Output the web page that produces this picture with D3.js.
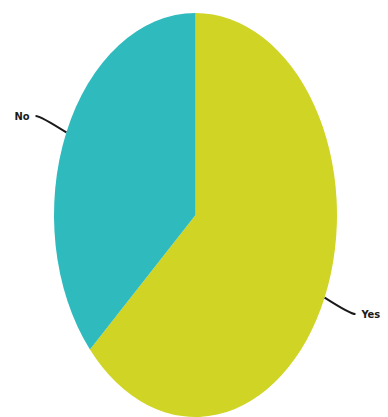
<!DOCTYPE html>
<html>
<head>
<meta charset="utf-8">
<script src="https://cdn.jsdelivr.net/npm/d3@7"></script>
<style>
  html, body { margin: 0; padding: 0; background: #fff; }
  svg { display: block; }
</style>
</head>
<body>
<svg id="chart" width="388" height="417"></svg>
<script>
// Survey answers
const categories = ["Yes", "No"];
const values = [63.4, 36.6];
const colors = ["#d0d425", "#2fbabd"];

const width = 388, height = 417;
const cx = 195.5, cy = 215;     // pie centre
const rx = 141.5, ry = 202;     // elliptical radii

const svg = d3.select("#chart");

const pie = d3.pie().sort(null).value(d => d.value);
const arcs = pie(categories.map((c, i) => ({ name: c, value: values[i], color: colors[i] })));

// unit-radius arcs, stretched into an ellipse
const arc = d3.arc().innerRadius(0).outerRadius(1);
const g = svg.append("g").attr("transform", `translate(${cx},${cy}) scale(${rx},${ry})`);
g.selectAll("path")
  .data(arcs)
  .join("path")
  .attr("d", arc)
  .attr("fill", d => d.data.color);

// point on the ellipse at angle a (clockwise from top), k times the radius
const at = (a, k) => [cx + Math.sin(a) * rx * k, cy - Math.cos(a) * ry * k];

const labels = svg.append("g");
arcs.forEach(d => {
  const mid = (d.startAngle + d.endAngle) / 2;
  const side = Math.sin(mid) >= 0 ? 1 : -1;
  const p0 = at(mid, 1.0);
  const p1 = at(mid, 1.2);
  const p2 = [p1[0] + side * 5, p1[1]];
  labels.append("path")
    .attr("d", `M${p0[0]},${p0[1]} Q${p1[0]},${p1[1]} ${p2[0]},${p2[1]}`)
    .attr("fill", "none")
    .attr("stroke", "#1a1a1a")
    .attr("stroke-width", 2);
  labels.append("text")
    .attr("x", p2[0] + side * 6)
    .attr("y", p2[1])
    .attr("dy", "0.35em")
    .attr("text-anchor", side > 0 ? "start" : "end")
    .attr("font-family", "'DejaVu Sans Condensed', 'DejaVu Sans', sans-serif")
    .attr("font-weight", "bold")
    .attr("font-size", 11)
    .attr("fill", "#1a1a1a")
    .text(d.data.name);
});
</script>
</body>
</html>
